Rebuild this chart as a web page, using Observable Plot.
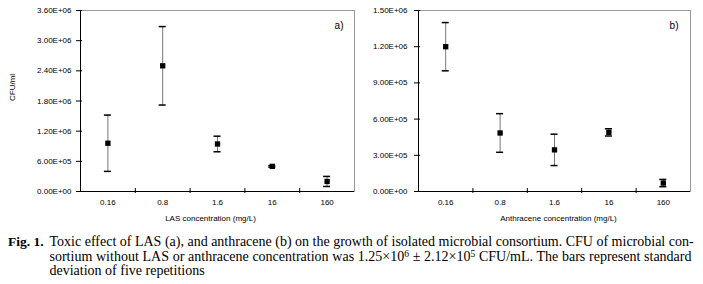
<!DOCTYPE html>
<html><head><meta charset="utf-8">
<script src="https://cdn.jsdelivr.net/npm/d3@7"></script>
<script src="https://cdn.jsdelivr.net/npm/@observablehq/plot@0.6"></script>
<style>
body{margin:0;background:#fff;}
#wrap{width:703px;position:relative;}
#charts{display:flex;height:228px;}
#caption{font-family:"Liberation Serif","Times New Roman",serif;font-size:14px;line-height:14.5px;color:#000;margin-top:7px;position:relative;}
#caption .lab{position:absolute;left:8px;top:0;font-weight:bold;font-size:13.5px;}
#caption .body{margin-left:49.5px;width:642px;}
#caption .l{white-space:nowrap;}
#caption .j{text-align:justify;text-align-last:justify;}
#caption sup{font-size:9.5px;line-height:0;vertical-align:4px;}
</style></head><body>
<div id="wrap"><div id="charts"></div>
<div id="caption"><div class="lab">Fig. 1.</div><div class="body"><div class="l j">Toxic effect of LAS (a), and anthracene (b) on the growth of isolated microbial consortium. CFU of microbial con-</div><div class="l j">sortium without LAS or anthracene concentration was 1.25×10<sup>6</sup> ± 2.12×10<sup>5</sup> CFU/mL. The bars represent standard</div><div class="l">deviation of five repetitions</div></div></div>
</div>
<script>
const categories = ["0.16", "0.8", "1.6", "16", "160"];
const lasMean = [9.6e5, 2.5e6, 9.45e5, 5.0e5, 2.0e5];
const lasSd = [5.6e5, 7.8e5, 1.55e5, 1.5e4, 1.0e5];
const anthMean = [1.2e6, 4.85e5, 3.45e5, 4.9e5, 7.0e4];
const anthSd = [2.0e5, 1.6e5, 1.3e5, 3.0e4, 3.0e4];
const lasTicks = [0, 6e5, 1.2e6, 1.8e6, 2.4e6, 3.0e6, 3.6e6];
const anthTicks = [0, 3e5, 6e5, 9e5, 1.2e6, 1.5e6];

function fmt(d) {
  if (d === 0) return "0.00E+00";
  const e = Math.floor(Math.log10(d) + 1e-9);
  const m = d / Math.pow(10, e);
  return m.toFixed(2) + "E+" + String(e).padStart(2, "0");
}

function panel({means, sds, yTicks, xLabel, yLabel, tag, width, marginLeft, marginRight, labelPad, tagDx, titleDx}) {
  const data = categories.map((c, i) => ({c, pos: i + 0.5, mean: means[i], lo: means[i] - sds[i], hi: means[i] + sds[i]}));
  const bounds = categories.slice(1).map((c, i) => i + 1);
  const marks = [
    Plot.frame({stroke: "#999"}),
    Plot.ruleX([0], {stroke: "#000"}),
    Plot.ruleY([0], {stroke: "#000"}),
    Plot.ruleX(bounds, {x: d => d, y1: 0, y2: 0, insetTop: 2, insetBottom: 3, stroke: "#000"}),
    Plot.ruleY(yTicks, {y: d => d, x1: 0, x2: 0, insetLeft: -4, insetRight: -2, stroke: "#000"}),
    Plot.text(yTicks, {y: d => d, text: d => fmt(d), frameAnchor: "left", dx: -labelPad, textAnchor: "end"}),
    Plot.text(data, {x: "pos", text: "c", frameAnchor: "bottom", dy: 13}),
    Plot.text([xLabel], {text: d => d, frameAnchor: "bottom", dx: titleDx, dy: 29}),
    Plot.text([tag], {text: d => d, frameAnchor: "top-right", dx: tagDx, dy: 11, textAnchor: "end", fontSize: 10}),
    Plot.ruleX(data, {x: "pos", y1: "lo", y2: "hi", stroke: "#777"}),
    Plot.ruleY(data, {y: "hi", x1: "pos", x2: "pos", insetLeft: -3.5, insetRight: -3.5, stroke: "#000", strokeWidth: 1.5}),
    Plot.ruleY(data, {y: "lo", x1: "pos", x2: "pos", insetLeft: -3.5, insetRight: -3.5, stroke: "#000", strokeWidth: 1.5}),
    Plot.dot(data, {x: "pos", y: "mean", symbol: "square", r: 3, fill: "#000", stroke: null})
  ];
  if (yLabel) marks.push(Plot.text([yLabel], {text: d => d, frameAnchor: "left", dx: -68, rotate: -90}));
  return Plot.plot({
    width, height: 228, marginTop: 10, marginBottom: 37, marginLeft, marginRight,
    style: {fontFamily: "'Liberation Sans', Arial, sans-serif", fontSize: "8px", color: "#000", background: "#fff", overflow: "visible"},
    x: {domain: [0, categories.length], axis: null},
    y: {domain: [0, yTicks[yTicks.length - 1]], axis: null},
    marks
  });
}

const charts = document.getElementById("charts");
charts.appendChild(panel({means: lasMean, sds: lasSd, yTicks: lasTicks, xLabel: "LAS concentration (mg/L)", yLabel: "CFU/ml", tag: "a)", width: 358, marginLeft: 80, marginRight: 4, labelPad: 9, tagDx: -11, titleDx: -7}));
charts.appendChild(panel({means: anthMean, sds: anthSd, yTicks: anthTicks, xLabel: "Anthracene concentration (mg/L)", yLabel: null, tag: "b)", width: 345, marginLeft: 60, marginRight: 13, labelPad: 11, tagDx: -12, titleDx: 4}));
</script>
</body></html>
